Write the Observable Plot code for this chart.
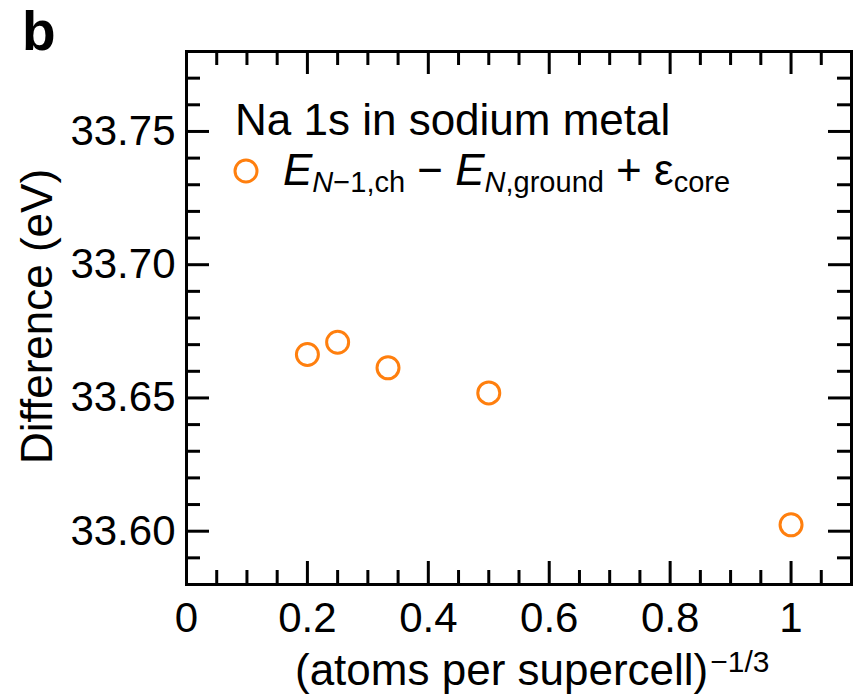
<!DOCTYPE html>
<html><head><meta charset="utf-8">
<script src="https://cdn.jsdelivr.net/npm/d3@7"></script>
<script src="https://cdn.jsdelivr.net/npm/@observablehq/plot@0.6"></script>
<style>body{margin:0;background:#fff} svg{display:block}</style>
</head><body><div id="chart"></div>
<script>
// ---- data ----
const xValues = [0.2, 0.25, 1/3, 0.5, 1.0];
const yValues = [33.6663, 33.6709, 33.6613, 33.6519, 33.6024];
const xMajorTicks = [0, 0.2, 0.4, 0.6, 0.8, 1];
const xTickLabels = ["0", "0.2", "0.4", "0.6", "0.8", "1"];
const xMinorTicks = [0.05, 0.1, 0.15, 0.25, 0.3, 0.35, 0.45, 0.5, 0.55, 0.65, 0.7, 0.75, 0.85, 0.9, 0.95, 1.05];
const yMajorTicks = [33.60, 33.65, 33.70, 33.75];
const yTickLabels = ["33.60", "33.65", "33.70", "33.75"];
const yMinorTicks = [33.59, 33.61, 33.62, 33.63, 33.64, 33.66, 33.67, 33.68, 33.69, 33.71, 33.72, 33.73, 33.74, 33.76, 33.77];
const legendTitle = "Na 1s in sodium metal";
const xLabel = "(atoms per supercell)";
const xLabelSup = "\u22121/3";
const yLabel = "Difference (eV)";
const panelLabel = "b";

const data = xValues.map((x, i) => ({x, y: yValues[i]}));

const W = 854, H = 696;
const mL = 186, mR = 3, mT = 51, mB = 112;
const plotW = W - mL - mR, plotH = H - mT - mB;
const majorLen = 23, minorLen = 14;
const color = "#ff7f0e";
const font = "'Liberation Sans', Arial, Helvetica, sans-serif";
const tickStroke = {stroke: "black", strokeWidth: 3};
const labelSize = 44, subSize = 29;

const svg = Plot.plot({
  width: W, height: H,
  marginLeft: mL, marginRight: mR, marginTop: mT, marginBottom: mB,
  style: {fontFamily: font, fontSize: "42px", background: "white", color: "black"},
  x: {domain: [0, 1.1]},
  y: {domain: [33.58, 33.78]},
  marks: [
    // ticks (inward, all four sides)
    Plot.tickX(xMajorTicks, {x: d => d, ...tickStroke, insetTop: plotH - majorLen}),
    Plot.tickX(xMajorTicks, {x: d => d, ...tickStroke, insetBottom: plotH - majorLen}),
    Plot.tickX(xMinorTicks, {x: d => d, ...tickStroke, insetTop: plotH - minorLen}),
    Plot.tickX(xMinorTicks, {x: d => d, ...tickStroke, insetBottom: plotH - minorLen}),
    Plot.tickY(yMajorTicks, {y: d => d, ...tickStroke, insetRight: plotW - majorLen}),
    Plot.tickY(yMajorTicks, {y: d => d, ...tickStroke, insetLeft: plotW - majorLen}),
    Plot.tickY(yMinorTicks, {y: d => d, ...tickStroke, insetRight: plotW - minorLen}),
    Plot.tickY(yMinorTicks, {y: d => d, ...tickStroke, insetLeft: plotW - minorLen}),
    Plot.axisX(xMajorTicks, {tickSize: 0, tickPadding: 18, fontSize: 42, label: null,
      tickFormat: d => xTickLabels[xMajorTicks.indexOf(d)]}),
    Plot.axisY(yMajorTicks, {tickSize: 0, tickPadding: 11, fontSize: 42, label: null,
      tickFormat: d => yTickLabels[yMajorTicks.indexOf(d)]}),
    Plot.frame({stroke: "black", strokeWidth: 3}),
    Plot.dot(data, {x: "x", y: "y", r: 11, stroke: color, strokeWidth: 3, fill: "none"})
  ]
});

const s = d3.select(svg);
// panel label
s.append("text").attr("x", 22).attr("y", 50).attr("text-anchor", "start").attr("font-size", 55)
  .attr("font-weight", "bold").attr("font-family", font).attr("fill", "black").text(panelLabel);
// y label
s.append("text").attr("transform", `translate(52,${mT + plotH / 2 - 1}) rotate(-90)`)
  .attr("text-anchor", "middle").attr("font-size", labelSize).attr("font-family", font)
  .attr("fill", "black").text(yLabel);
// x label with superscript
const xl = s.append("text").attr("x", 295).attr("y", 685).attr("text-anchor", "start")
  .attr("font-size", labelSize).attr("font-family", font).attr("fill", "black");
xl.append("tspan").text(xLabel);
xl.append("tspan").attr("font-size", 30).attr("dy", -13).attr("dx", 2).text(xLabelSup);
// legend
s.append("text").attr("x", 235).attr("y", 135).attr("text-anchor", "start").attr("font-size", labelSize)
  .attr("font-family", font).attr("fill", "black").text(legendTitle);
s.append("circle").attr("cx", 246).attr("cy", 171).attr("r", 11).attr("fill", "none")
  .attr("stroke", color).attr("stroke-width", 3);
const lt = s.append("text").attr("x", 283).attr("y", 185).attr("text-anchor", "start").attr("font-size", labelSize)
  .attr("font-family", font).attr("fill", "black");
lt.append("tspan").attr("font-style", "italic").text("E");
const s1 = lt.append("tspan").attr("font-size", subSize).attr("dy", 7);
s1.append("tspan").attr("font-style", "italic").text("N");
s1.append("tspan").text("\u22121,ch");
lt.append("tspan").attr("dy", -7).text(" \u2212 ");
lt.append("tspan").attr("font-style", "italic").text("E");
const s2 = lt.append("tspan").attr("font-size", subSize).attr("dy", 7);
s2.append("tspan").attr("font-style", "italic").text("N");
s2.append("tspan").text(",ground");
lt.append("tspan").attr("dy", -7).text(" + \u03b5");
lt.append("tspan").attr("font-size", subSize).attr("dy", 7).text("core");

document.getElementById("chart").appendChild(svg);
</script>
</body></html>
